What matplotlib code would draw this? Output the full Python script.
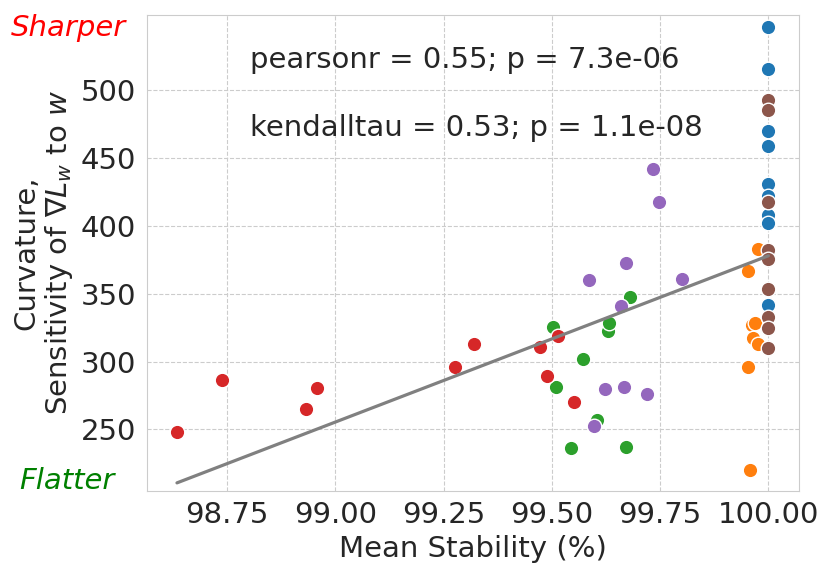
import numpy as np
import matplotlib
matplotlib.use("Agg")
import matplotlib.pyplot as plt
import seaborn as sns

# mean stability (%) and curvature, one pair of lists per run group
red_x = [98.634, 98.738, 98.932, 98.957, 99.275, 99.321, 99.473, 99.488, 99.515, 99.551]
red_y = [248.1, 286.4, 265.0, 280.7, 295.9, 312.7, 310.5, 289.3, 319.0, 270.2]

green_x = [99.502, 99.510, 99.544, 99.572, 99.605, 99.630, 99.632, 99.670, 99.681]
green_y = [325.2, 281.4, 236.5, 302.1, 256.9, 322.7, 328.1, 237.0, 347.3]

purple_x = [99.586, 99.598, 99.623, 99.660, 99.667, 99.670, 99.720, 99.733, 99.748, 99.800]
purple_y = [360.0, 252.5, 279.5, 340.9, 281.4, 372.3, 275.8, 441.5, 417.7, 360.5]

orange_x = [99.976, 99.952, 99.962, 99.970, 99.964, 99.975, 99.954, 99.958]
orange_y = [382.8, 366.8, 326.7, 328.4, 317.3, 313.2, 296.2, 220.0]

brown_x = [100.0] * 9
brown_y = [492.6, 485.2, 417.7, 382.5, 375.3, 353.2, 333.0, 324.4, 310.2]

blue_x = [100.0] * 9
blue_y = [546.5, 515.2, 470.0, 458.7, 430.5, 422.1, 407.9, 401.8, 341.6]

groups = [
    (blue_x, blue_y, "tab:blue"),
    (orange_x, orange_y, "tab:orange"),
    (green_x, green_y, "tab:green"),
    (red_x, red_y, "tab:red"),
    (purple_x, purple_y, "tab:purple"),
    (brown_x, brown_y, "tab:brown"),
]

pearson_txt = "pearsonr = 0.55; p = 7.3e-06"
kendall_txt = "kendalltau = 0.53; p = 1.1e-08"

sns.set_style("whitegrid", {"grid.linestyle": "--"})
plt.rcParams["font.family"] = ["DejaVu Sans"]
fs = 21

fig = plt.figure(figsize=(8.3, 5.75), dpi=100)
ax = fig.add_axes([0.1767, 0.1466, 0.7856, 0.8278])

for gx, gy, c in groups:
    ax.scatter(gx, gy, s=110, color=c, edgecolor="white", linewidth=1, zorder=3)

# least squares line over all points
all_x = np.concatenate([np.array(g[0]) for g in groups])
all_y = np.concatenate([np.array(g[1]) for g in groups])
k, b = np.polyfit(all_x, all_y, 1)
xl = np.array([all_x.min(), all_x.max()])
ax.plot(xl, k * xl + b, color="gray", lw=2.3, zorder=4)

ax.set_xlim(98.564, 100.070)
ax.set_ylim(204.9, 555.4)
ax.set_xticks([98.75, 99.0, 99.25, 99.5, 99.75, 100.0])
ax.set_xticklabels(["98.75", "99.00", "99.25", "99.50", "99.75", "100.00"])
ax.set_yticks([250, 300, 350, 400, 450, 500])
ax.tick_params(labelsize=fs, colors="#262626", pad=4)
ax.set_xlabel("Mean Stability (%)", fontsize=fs, color="#262626")
ax.set_ylabel("Curvature,\nSensitivity of $\\nabla L_w$ to $w$", fontsize=fs,
              color="#262626", linespacing=1.1)

ax.text(0.158, 0.905, pearson_txt, transform=ax.transAxes, fontsize=fs,
        color="#262626", va="center", ha="left")
ax.text(0.158, 0.762, kendall_txt, transform=ax.transAxes, fontsize=fs,
        color="#262626", va="center", ha="left")

fig.text(0.083, 0.951, "Sharper", color="red", style="italic", fontsize=fs,
         ha="center", va="center")
fig.text(0.081, 0.163, "Flatter", color="green", style="italic", fontsize=fs,
         ha="center", va="center")

fig.savefig("out.png", dpi=100)
